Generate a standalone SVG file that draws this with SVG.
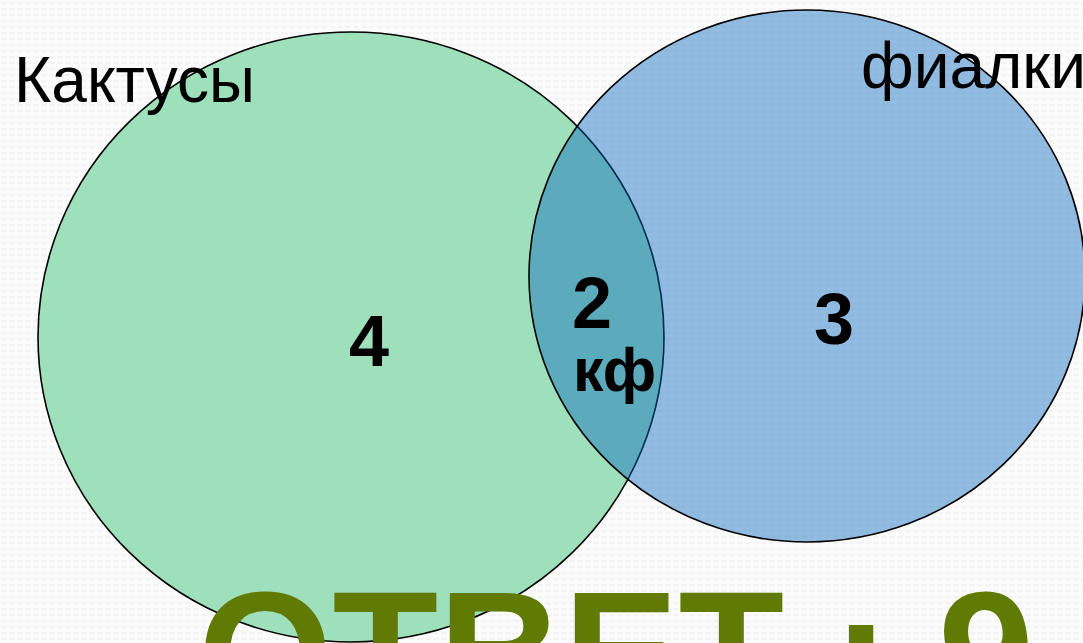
<svg xmlns="http://www.w3.org/2000/svg" width="1083" height="643" viewBox="0 0 1083 643">
  <defs>
    <pattern id="bgp" width="8" height="6" patternUnits="userSpaceOnUse">
      <rect width="8" height="6" fill="#fcfcfc"/>
      <ellipse cx="4" cy="3" rx="3" ry="1.5" fill="#f4f4f4"/>
    </pattern>
  </defs>
  <style>
    .set { stroke: #000; stroke-width: 1.6; }
    .lbl { font-family: "Liberation Sans", Arial, sans-serif; font-size: 64px; fill: #000; }
    .num { font-family: "Liberation Sans", Arial, sans-serif; font-weight: bold; fill: #000; }
    .ans { font-family: "Liberation Sans", Arial, sans-serif; font-weight: bold; font-size: 173px; fill: #607A04; }
  </style>
  <rect width="1083" height="643" fill="url(#bgp)"/>
  <g id="cacti">
    <ellipse class="set" cx="351" cy="337" rx="313" ry="305" fill="#9EE0BC"/>
  </g>
  <g id="violets">
    <ellipse class="set" cx="807" cy="276" rx="278" ry="266" fill="rgb(0,98,191)" fill-opacity="0.42"/>
  </g>
  <g id="labels">
    <text class="lbl" x="14" y="102">Кактусы</text>
    <text class="lbl" x="861" y="88">фиалки</text>
  </g>
  <g id="counts">
    <text class="num" x="349" y="366" font-size="72">4</text>
    <text class="num" x="572" y="328" font-size="72">2</text>
    <text class="num" x="573" y="391" font-size="61">кф</text>
    <text class="num" x="814" y="344" font-size="72">3</text>
  </g>
  <g id="answer">
    <text class="ans" x="198" y="712">ОТВЕТ : 9</text>
  </g>
</svg>
